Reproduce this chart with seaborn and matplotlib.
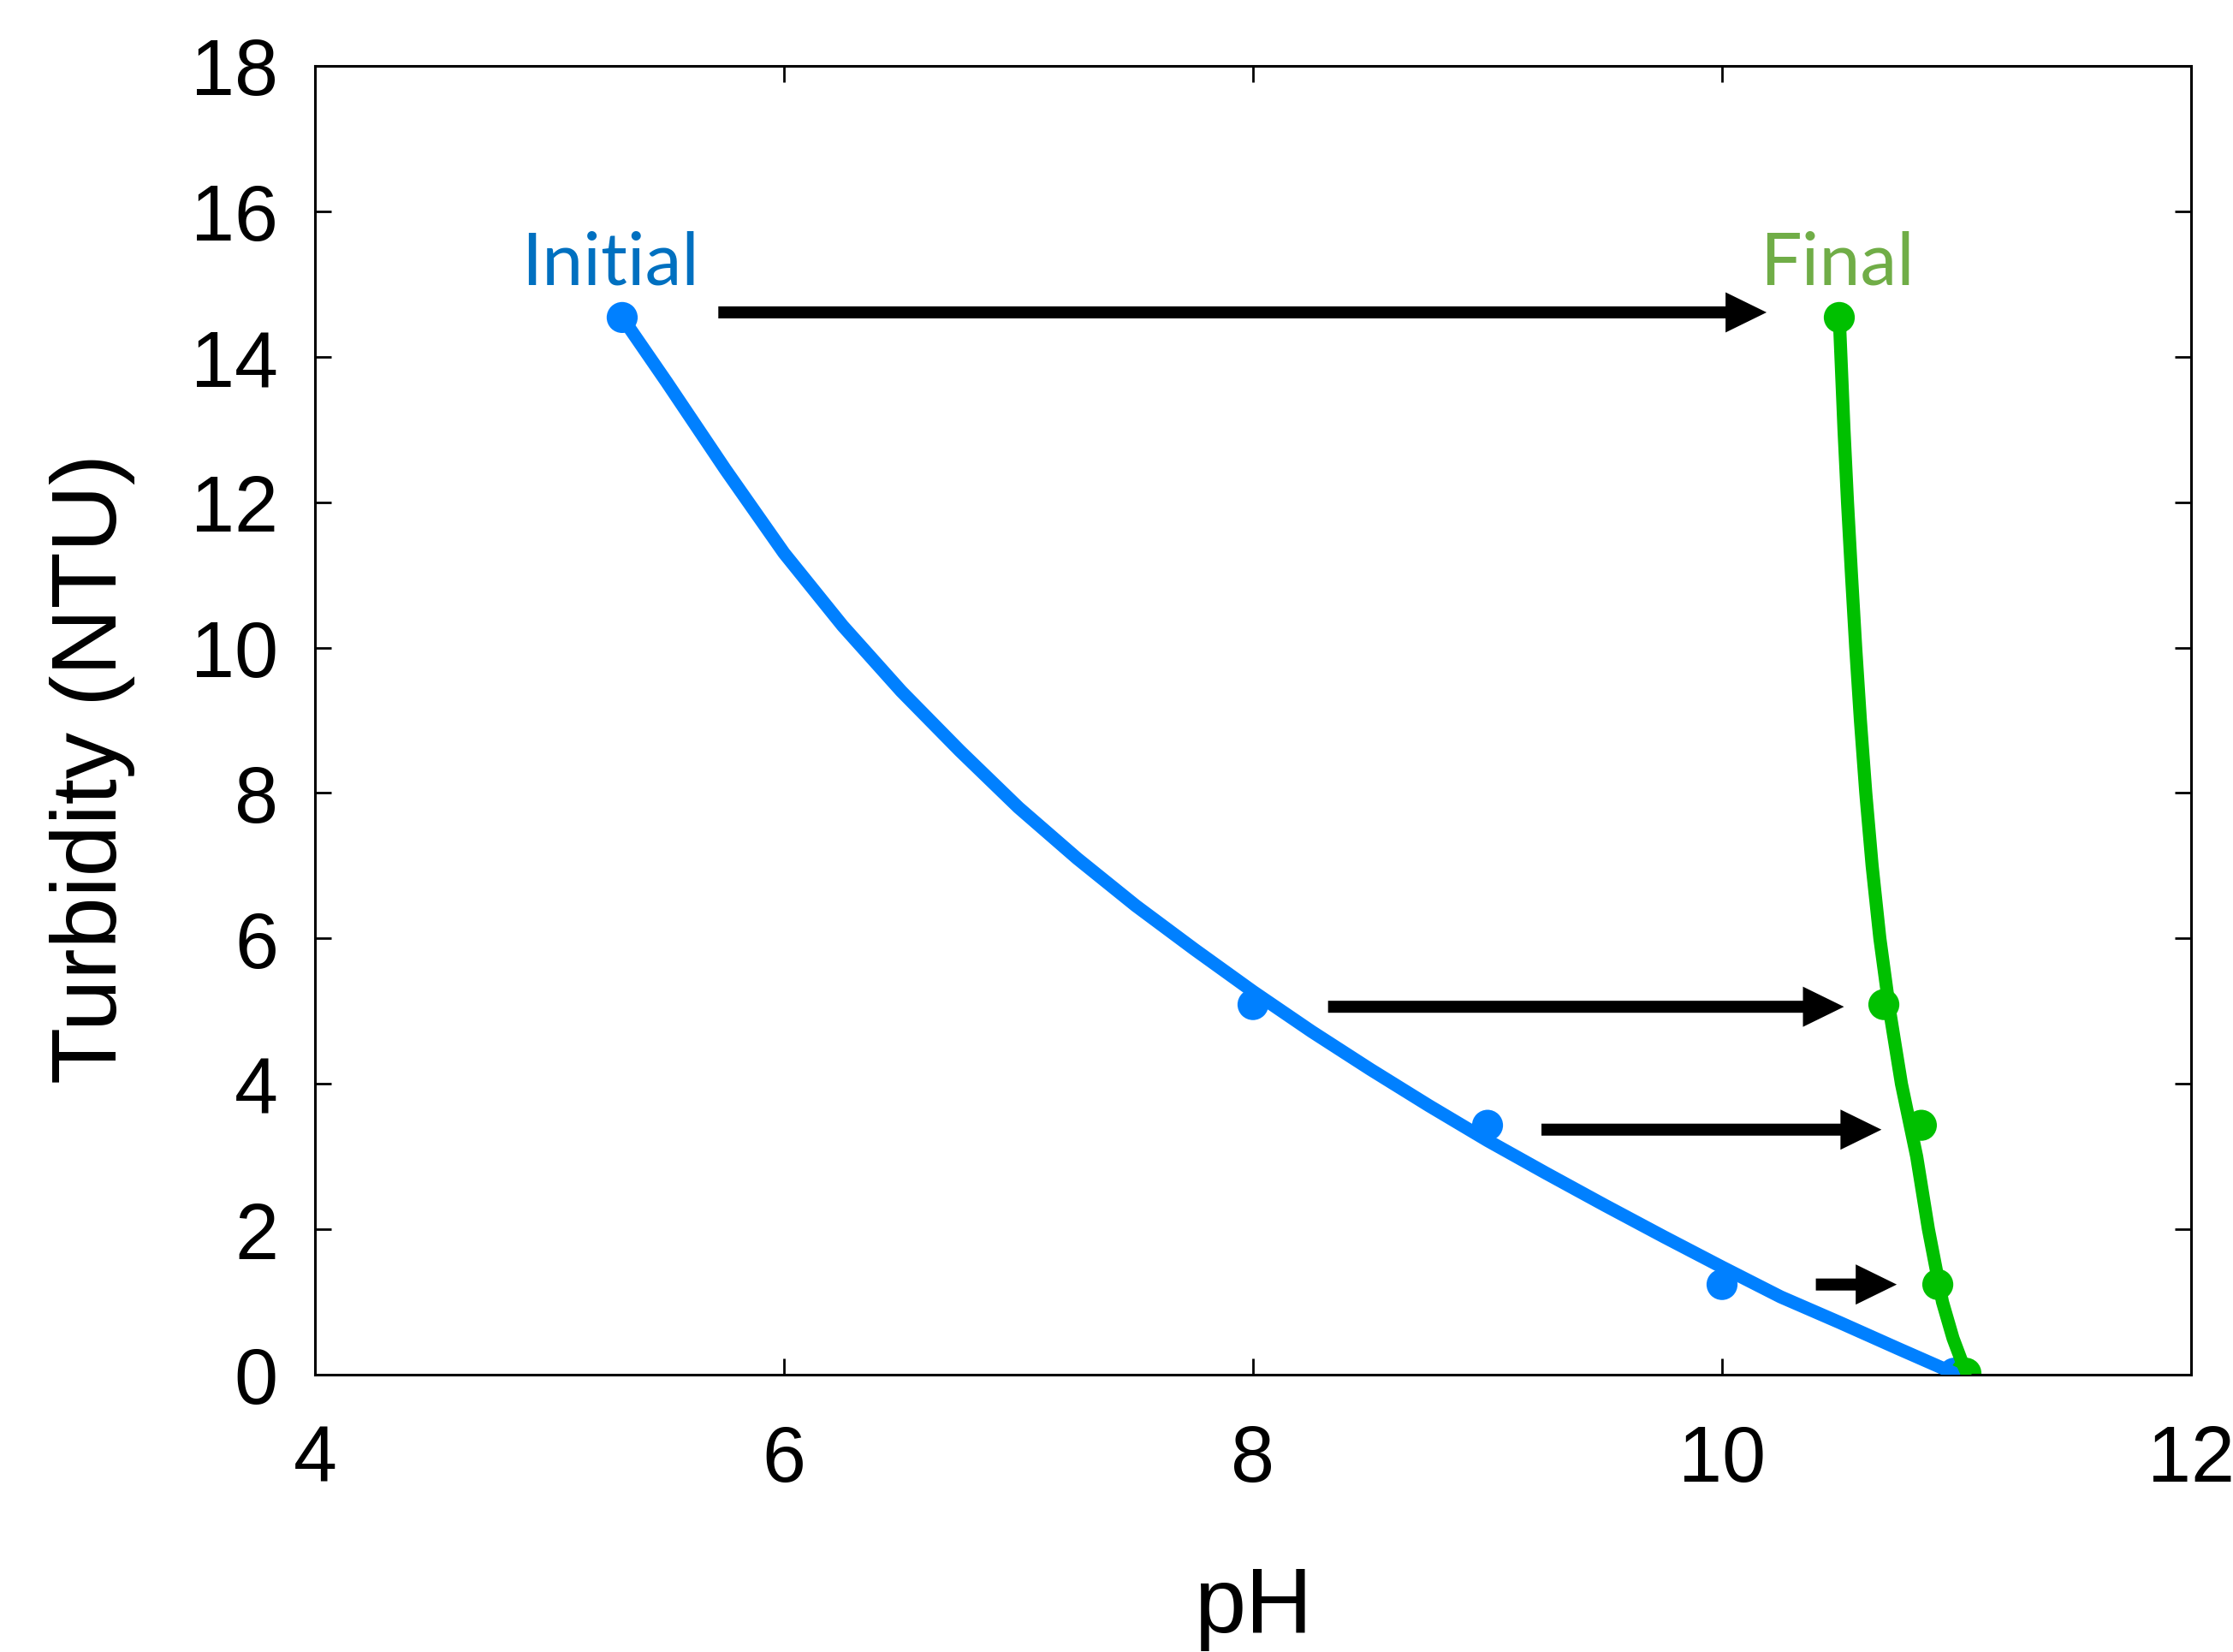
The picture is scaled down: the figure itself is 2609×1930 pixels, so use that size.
import numpy as np
import pandas as pd
import seaborn as sns
import matplotlib.pyplot as plt
from matplotlib.patches import FancyArrow

# measured points
ph_initial = [5.31, 8.0, 9.0, 10.0, 10.99]
ph_final = [10.50, 10.69, 10.85, 10.92, 11.04]
turbidity = [14.54, 5.09, 3.43, 1.24, 0.02]

# trend lines
curve_initial_x = [5.31, 5.50, 5.75, 6.00, 6.25, 6.50, 6.75, 7.00, 7.25, 7.50, 7.75,
                   8.00, 8.25, 8.50, 8.75, 9.00, 9.25, 9.50, 9.75, 10.00, 10.25,
                   10.50, 10.75, 10.99]
curve_initial_y = [14.54, 13.65, 12.45, 11.30, 10.30, 9.40, 8.58, 7.80, 7.10, 6.45, 5.85,
                   5.27, 4.72, 4.20, 3.70, 3.22, 2.77, 2.33, 1.90, 1.48, 1.07,
                   0.72, 0.36, 0.02]
curve_final_x = [10.500, 10.520, 10.535, 10.552, 10.570, 10.590, 10.613, 10.640, 10.673,
                 10.715, 10.765, 10.830, 10.880, 10.940, 10.985, 11.020, 11.040]
curve_final_y = [14.54, 13.0, 12.0, 11.0, 10.0, 9.0, 8.0, 7.0, 6.0,
                 5.0, 4.0, 3.0, 2.0, 1.0, 0.5, 0.2, 0.05]

# shift arrows: start pH, end pH, turbidity
arrow_start = [5.72, 8.32, 9.23, 10.40]
arrow_end = [10.19, 10.52, 10.68, 10.745]
arrow_y = [14.61, 5.06, 3.37, 1.24]

blue = '#0080FF'
green = '#00C000'

sns.set_theme(style='white')
plt.rcParams['font.family'] = ['Liberation Sans', 'DejaVu Sans']

fig = plt.figure(figsize=(26.09, 19.31), dpi=100)
ax = fig.add_axes([368 / 2609, 1 - 1607 / 1931, 2192 / 2609, 1529 / 1931])

pts = pd.DataFrame({'ph': ph_initial + ph_final, 'ntu': turbidity * 2,
                    'set': ['Initial'] * 5 + ['Final'] * 5})
sns.scatterplot(data=pts, x='ph', y='ntu', hue='set', palette={'Initial': blue, 'Final': green},
                s=680, linewidth=0, legend=False, ax=ax, zorder=2)

ci = pd.DataFrame({'x': curve_initial_x, 'y': curve_initial_y})
cf = pd.DataFrame({'x': curve_final_x, 'y': curve_final_y})
sns.lineplot(data=ci, x='x', y='y', sort=False, estimator=None, color=blue, lw=11,
             solid_capstyle='round', solid_joinstyle='round', ax=ax, zorder=3)
sns.lineplot(data=cf, x='x', y='y', sort=False, estimator=None, color=green, lw=11,
             solid_capstyle='round', solid_joinstyle='round', ax=ax, zorder=3)

for x0, x1, y in zip(arrow_start, arrow_end, arrow_y):
    ax.add_patch(FancyArrow(x0, y, x1 - x0, 0, width=0.165, head_width=0.553,
                            head_length=0.175, length_includes_head=True,
                            color='black', lw=0, zorder=4))

ax.text(5.26, 15.0, 'Initial', color='#0070C0', fontsize=62, family=['Lato', 'DejaVu Sans'],
        ha='center', va='baseline')
ax.text(10.49, 15.0, 'Final', color='#70AD47', fontsize=62, family=['Lato', 'DejaVu Sans'],
        ha='center', va='baseline')

ax.set_xlim(4, 12)
ax.set_ylim(0, 18)
ax.set_xticks(np.arange(4, 13, 2))
ax.set_yticks(np.arange(0, 19, 2))
ax.tick_params(direction='in', length=14, width=2, color='black', labelsize=66,
               labelcolor='black', top=True, right=True, left=True, bottom=True)
ax.tick_params(axis='y', pad=31)
ax.tick_params(axis='x', pad=41)
for sp in ax.spines.values():
    sp.set_color('black')
    sp.set_linewidth(2.2)

ax.set_xlabel('pH', fontsize=78, color='black')
ax.set_ylabel('Turbidity (NTU)', fontsize=78, color='black')
ax.xaxis.set_label_coords(0.5, -0.145)
ax.yaxis.set_label_coords(-0.096, 0.464)

fig.savefig('out.png', dpi=100, facecolor='white')
